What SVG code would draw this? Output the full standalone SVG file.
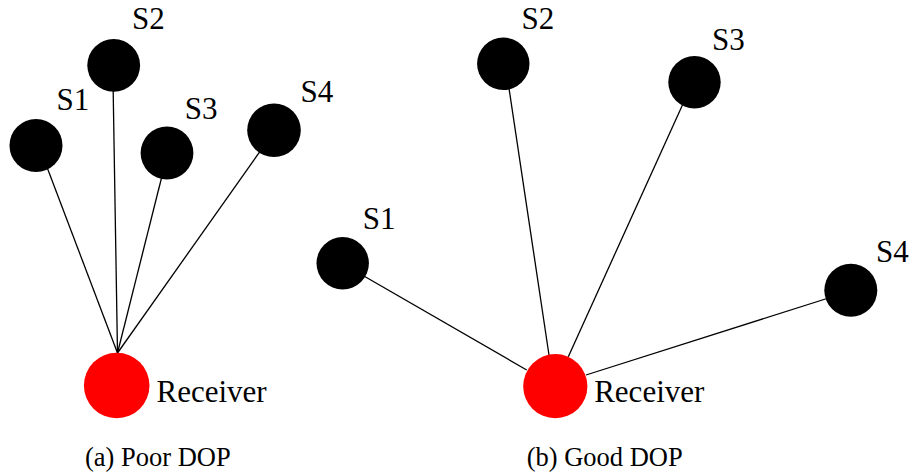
<svg xmlns="http://www.w3.org/2000/svg" width="914" height="474" viewBox="0 0 914 474">
<style>
.sat{fill:#000}
.rcv{fill:#ff0000}
.lbl{font-family:"Liberation Serif","Times New Roman",serif;font-size:31px;fill:#000}
.cap{font-family:"Liberation Serif","Times New Roman",serif;font-size:26.5px;fill:#000}
.conn line{stroke:#000;stroke-width:1.3}
</style>
<rect width="914" height="474" fill="#fff"/>
<g id="connectors" class="conn">
<line x1="42" y1="154" x2="117.5" y2="353"/>
<line x1="113" y1="80" x2="117.5" y2="353"/>
<line x1="164" y1="168" x2="117.5" y2="353"/>
<line x1="266" y1="143" x2="117.5" y2="353"/>
<line x1="350" y1="268" x2="526.7" y2="370"/>
<line x1="507" y1="75" x2="549" y2="355"/>
<line x1="687" y1="95" x2="568.3" y2="356.7"/>
<line x1="838" y1="295" x2="586" y2="375"/>
</g>
<g id="a-s1"><circle class="sat" cx="36" cy="145.5" r="26.5"/><text class="lbl" x="56.5" y="110">S1</text></g>
<g id="a-s2"><circle class="sat" cx="113.7" cy="65.3" r="26.4"/><text class="lbl" x="132" y="29.3">S2</text></g>
<g id="a-s3"><circle class="sat" cx="167" cy="153" r="26.4"/><text class="lbl" x="184.8" y="119.3">S3</text></g>
<g id="a-s4"><circle class="sat" cx="274" cy="130.3" r="26.8"/><text class="lbl" x="300.5" y="101.7">S4</text></g>
<g id="a-rcv"><circle class="rcv" cx="116.7" cy="385.5" r="32.8"/><text class="lbl" x="156.5" y="401.7">Receiver</text></g>
<text class="cap" x="85" y="465.7">(a) Poor DOP</text>
<g id="b-s1"><circle class="sat" cx="342.7" cy="263.3" r="26.2"/><text class="lbl" x="362.8" y="229.3">S1</text></g>
<g id="b-s2"><circle class="sat" cx="503.3" cy="63.8" r="26.2"/><text class="lbl" x="521.5" y="29.3">S2</text></g>
<g id="b-s3"><circle class="sat" cx="694.5" cy="82.2" r="26.2"/><text class="lbl" x="712.1" y="50">S3</text></g>
<g id="b-s4"><circle class="sat" cx="850.8" cy="290.3" r="26.5"/><text class="lbl" x="876.1" y="261.7">S4</text></g>
<g id="b-rcv"><circle class="rcv" cx="555.3" cy="386.2" r="32.1"/><text class="lbl" x="594.2" y="401.7">Receiver</text></g>
<text class="cap" x="526.7" y="465.7">(b) Good DOP</text>
</svg>
